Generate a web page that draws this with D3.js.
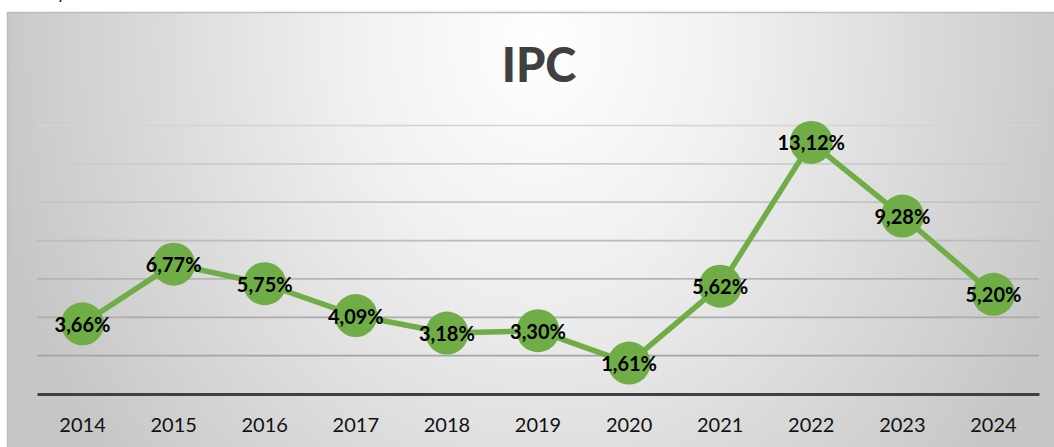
<!DOCTYPE html>
<html>
<head>
<meta charset="utf-8">
<script src="https://cdn.jsdelivr.net/npm/d3@7"></script>
<style>
  html, body { margin: 0; padding: 0; background: #ffffff; }
  svg { display: block; }
</style>
</head>
<body>
<svg id="chart" width="1054" height="447"></svg>
<script>
const years = ["2014","2015","2016","2017","2018","2019","2020","2021","2022","2023","2024"];
const ipc = [3.66, 6.77, 5.75, 4.09, 3.18, 3.30, 1.61, 5.62, 13.12, 9.28, 5.20];
const labels = ["3,66%","6,77%","5,75%","4,09%","3,18%","3,30%","1,61%","5,62%","13,12%","9,28%","5,20%"];
const yTicks = [2, 4, 6, 8, 10, 12, 14];
const title = "IPC";

const svg = d3.select("#chart");

const defs = svg.append("defs");
const grad = defs.append("radialGradient")
  .attr("id", "bg")
  .attr("gradientUnits", "userSpaceOnUse")
  .attr("cx", 540).attr("cy", 40).attr("r", 560)
  .attr("gradientTransform", "translate(540,40) scale(1,1.2) translate(-540,-40)");
grad.append("stop").attr("offset", 0).attr("stop-color", "#ffffff");
grad.append("stop").attr("offset", 0.35).attr("stop-color", "#f0f0f0");
grad.append("stop").attr("offset", 1).attr("stop-color", "#c6c6c6");

// cut-off text above chart (as in the reference)
svg.append("text").attr("x", 57).attr("y", -1)
  .attr("font-family", "Lato, sans-serif").attr("font-size", 17).attr("fill", "#000")
  .text("y");

svg.append("rect")
  .attr("x", 7.5).attr("y", 12.5)
  .attr("width", 1060).attr("height", 450)
  .attr("fill", "url(#bg)")
  .attr("stroke", "#bdbdbd").attr("stroke-width", 1.5);

const x = d3.scaleBand().domain(years).range([37, 1039]).padding(0);
const y = d3.scaleLinear().domain([0, 14]).range([394, 125.5]);

// gridlines
const gridColor = d3.scaleLinear().domain([14, 2]).range(["#d4d4d4", "#a4a4a4"]);
svg.append("g").selectAll("line").data(yTicks).join("line")
  .attr("x1", 37).attr("x2", 1039)
  .attr("y1", d => y(d)).attr("y2", d => y(d))
  .attr("stroke", d => gridColor(d)).attr("stroke-width", 1.7);

// x axis
const xAxis = svg.append("g").attr("transform", `translate(0,${y(0)})`)
  .call(d3.axisBottom(x).tickSize(0).tickPadding(24));
xAxis.select(".domain").attr("stroke", "#404040").attr("stroke-width", 3.2);
xAxis.selectAll("text")
  .attr("font-family", "Lato, 'Open Sans', sans-serif")
  .attr("font-size", 20).attr("fill", "#111");

// title
svg.append("text")
  .attr("x", 539).attr("y", 82)
  .attr("text-anchor", "middle")
  .attr("font-family", "Lato, 'Open Sans', sans-serif")
  .attr("font-weight", 900).attr("font-size", 47)
  .attr("fill", "#404040")
  .text(title);

const cx = (d, i) => x(years[i]) + x.bandwidth() / 2;

// line
const line = d3.line().x((d, i) => cx(d, i)).y(d => y(d));
svg.append("path").datum(ipc)
  .attr("d", line)
  .attr("fill", "none").attr("stroke", "#70ad47")
  .attr("stroke-width", 5.5).attr("stroke-linejoin", "round");

// markers
svg.append("g").selectAll("circle").data(ipc).join("circle")
  .attr("cx", cx).attr("cy", d => y(d))
  .attr("r", 21.5).attr("fill", "#70ad47");

// data labels
svg.append("g").selectAll("text").data(ipc).join("text")
  .attr("x", cx).attr("y", d => y(d) + 8)
  .attr("text-anchor", "middle")
  .attr("font-family", "Lato, 'Open Sans', sans-serif")
  .attr("font-weight", 700).attr("font-size", 20)
  .attr("fill", "#000")
  .text((d, i) => labels[i]);
</script>
</body>
</html>
